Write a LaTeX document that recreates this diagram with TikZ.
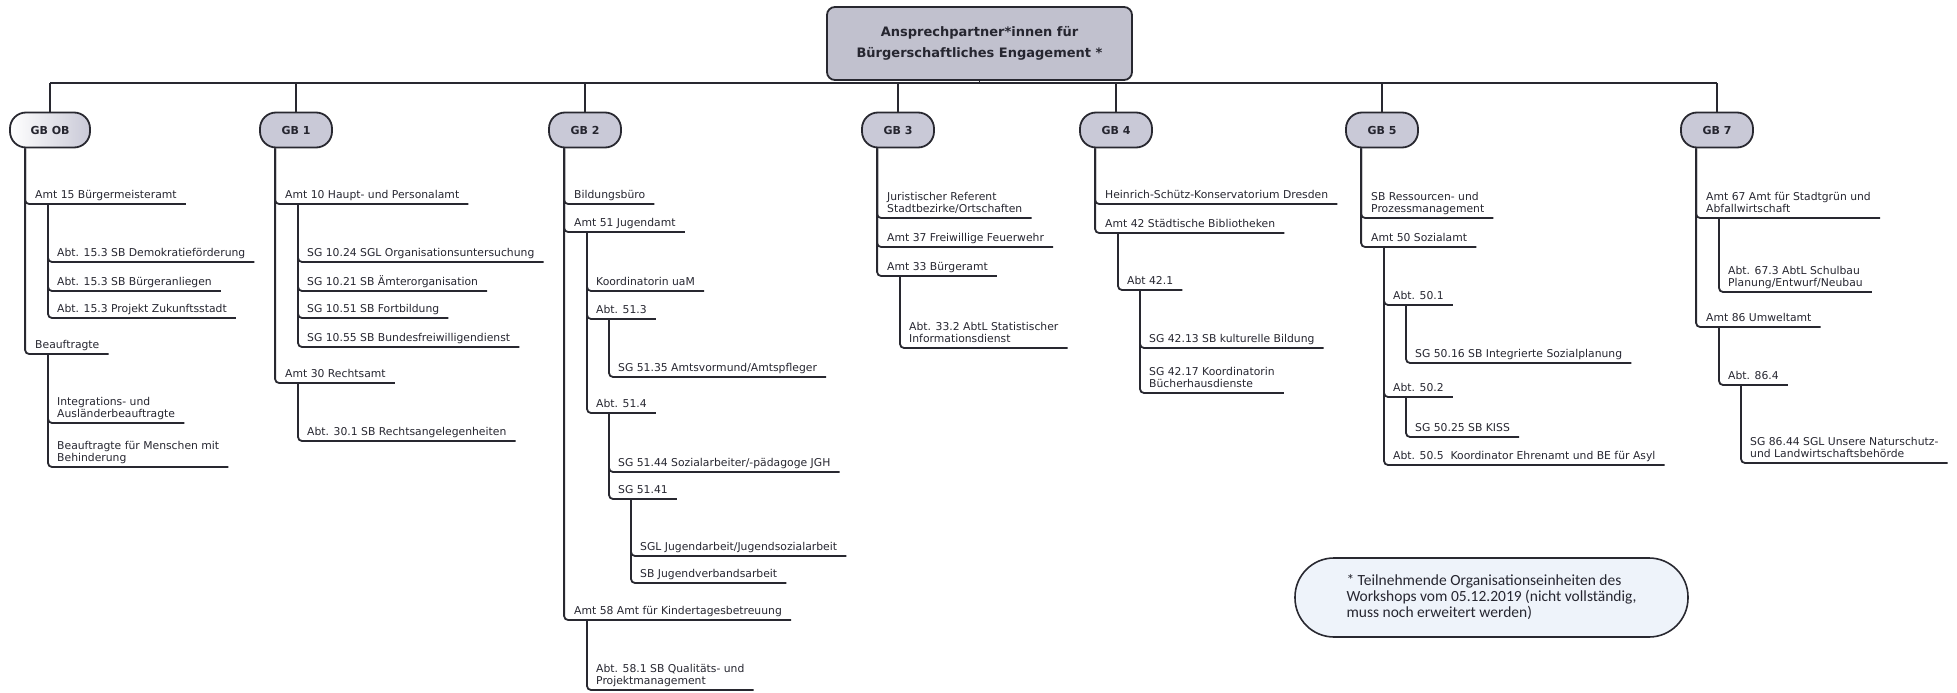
\documentclass[tikz,border=0pt]{standalone}
\usepackage{fontspec}
\setmainfont{DejaVu Sans}
\newfontfamily\notefont{Carlito}
\definecolor{linecol}{RGB}{40,40,48}
\definecolor{txtcol}{RGB}{38,38,48}
\definecolor{gbfill}{RGB}{201,201,215}
\definecolor{rootfill}{RGB}{193,193,206}
\definecolor{notefill}{RGB}{238,243,250}
\tikzset{
  conn/.style={draw=linecol, line width=1.8pt, rounded corners=4pt},
  item/.style={anchor=south west, inner xsep=9pt, inner ysep=2.4pt, text depth=2.6pt,
    align=left, text=txtcol, font=\fontsize{10.8}{12}\selectfont},
  gb/.style={draw=linecol, line width=1.8pt, fill=gbfill, rounded corners=16pt,
    minimum width=72pt, minimum height=35pt, text=txtcol, font=\bfseries\fontsize{11}{12}\selectfont},
  rootbox/.style={draw=linecol, line width=1.8pt, fill=rootfill, rounded corners=8pt,
    minimum width=305pt, minimum height=73pt, align=center, text=txtcol,
    font=\bfseries\fontsize{13}{21}\selectfont},
  notebox/.style={draw=linecol, line width=1.6pt, fill=notefill, rounded corners=39pt,
    minimum width=393pt, minimum height=79pt, align=left, text=txtcol,
    font=\notefont\fontsize{15.5}{16}\selectfont}
}
\begin{document}
\begin{tikzpicture}[x=1pt, y=-1pt]
\useasboundingbox (0,0) rectangle (1957,693);
\node[rootbox] (root) at (979.5,43.5) {Ansprechpartner*innen für\\Bürgerschaftliches Engagement *};
\coordinate (bus) at (0,83);
%GB OB
\node[gb, minimum width=80pt, left color=white, right color=gbfill] (gbob) at (50,130) {GB OB};
\node[item] (amt15) at (26,204) {Amt 15 Bürgermeisteramt};
\node[item] (abt153a) at (48,262) {Abt. 15.3 SB Demokratieförderung};
\node[item] (abt153b) at (48,291) {Abt. 15.3 SB Bürgeranliegen};
\node[item] (abt153c) at (48,318) {Abt. 15.3 Projekt Zukunftsstadt};
\node[item] (beauftr) at (26,354) {Beauftragte};
\node[item] (integ) at (48,423) {Integrations- und\\Ausländerbeauftragte};
\node[item] (behind) at (48,467) {Beauftragte für Menschen mit\\Behinderung};
%GB 1
\node[gb] (gb1) at (296,130) {GB 1};
\node[item] (amt10) at (276,204) {Amt 10 Haupt- und Personalamt};
\node[item] (sg1024) at (298,262) {SG 10.24 SGL Organisationsuntersuchung};
\node[item] (sg1021) at (298,291) {SG 10.21 SB Ämterorganisation};
\node[item] (sg1051) at (298,318) {SG 10.51 SB Fortbildung};
\node[item] (sg1055) at (298,347) {SG 10.55 SB Bundesfreiwilligendienst};
\node[item] (amt30) at (276,383) {Amt 30 Rechtsamt};
\node[item] (abt301) at (298,441) {Abt. 30.1 SB Rechtsangelegenheiten};
%GB 2
\node[gb] (gb2) at (585,130) {GB 2};
\node[item] (bildung) at (565,204) {Bildungsbüro};
\node[item] (amt51) at (565,232) {Amt 51 Jugendamt};
\node[item] (koord) at (587,291) {Koordinatorin uaM};
\node[item] (abt513) at (587,319) {Abt. 51.3};
\node[item] (sg5135) at (609,377) {SG 51.35 Amtsvormund/Amtspfleger};
\node[item] (abt514) at (587,413) {Abt. 51.4};
\node[item] (sg5144) at (609,472) {SG 51.44 Sozialarbeiter/-pädagoge JGH};
\node[item] (sg5141) at (609,499) {SG 51.41};
\node[item] (sgljug) at (631,556) {SGL Jugendarbeit/Jugendsozialarbeit};
\node[item] (sbjug) at (631,583) {SB Jugendverbandsarbeit};
\node[item] (amt58) at (565,620) {Amt 58 Amt für Kindertagesbetreuung};
\node[item] (abt581) at (587,690) {Abt. 58.1 SB Qualitäts- und\\Projektmanagement};
%GB 3
\node[gb] (gb3) at (898,130) {GB 3};
\node[item] (jurist) at (878,218) {Juristischer Referent\\Stadtbezirke/Ortschaften};
\node[item] (amt37) at (878,247) {Amt 37 Freiwillige Feuerwehr};
\node[item] (amt33) at (878,276) {Amt 33 Bürgeramt};
\node[item] (abt332) at (900,348) {Abt. 33.2 AbtL Statistischer\\Informationsdienst};
%GB 4
\node[gb] (gb4) at (1116,130) {GB 4};
\node[item] (hsk) at (1096,204) {Heinrich-Schütz-Konservatorium Dresden};
\node[item] (amt42) at (1096,233) {Amt 42 Städtische Bibliotheken};
\node[item] (abt421) at (1118,290) {Abt 42.1};
\node[item] (sg4213) at (1140,348) {SG 42.13 SB kulturelle Bildung};
\node[item] (sg4217) at (1140,393) {SG 42.17 Koordinatorin\\Bücherhausdienste};
%GB 5
\node[gb] (gb5) at (1382,130) {GB 5};
\node[item] (sbres) at (1362,218) {SB Ressourcen- und\\Prozessmanagement};
\node[item] (amt50) at (1362,247) {Amt 50 Sozialamt};
\node[item] (abt501) at (1384,305) {Abt. 50.1};
\node[item] (sg5016) at (1406,363) {SG 50.16 SB Integrierte Sozialplanung};
\node[item] (abt502) at (1384,397) {Abt. 50.2};
\node[item] (sg5025) at (1406,437) {SG 50.25 SB KISS};
\node[item] (abt505) at (1384,465) {Abt. 50.5\ \ Koordinator Ehrenamt und BE für Asyl};
%GB 7
\node[gb] (gb7) at (1717,130) {GB 7};
\node[item] (amt67) at (1697,218) {Amt 67 Amt für Stadtgrün und\\Abfallwirtschaft};
\node[item] (abt673) at (1719,292) {Abt. 67.3 AbtL Schulbau\\Planung/Entwurf/Neubau};
\node[item] (amt86) at (1697,327) {Amt 86 Umweltamt};
\node[item] (abt864) at (1719,385) {Abt. 86.4};
\node[item] (sg8644) at (1741,463) {SG 86.44 SGL Unsere Naturschutz-\\und Landwirtschaftsbehörde};
%note
\node[notebox] (note) at (1491.5,597.5) {* Teilnehmende Organisationseinheiten des\\Workshops vom 05.12.2019 (nicht vollständig,\\muss noch erweitert werden)};
%bus
\draw[conn] (root.south) -- (root.south |- bus);
\draw[conn] (gbob.north |- bus) -- (gb7.north |- bus);
\foreach \g in {gbob,gb1,gb2,gb3,gb4,gb5,gb7}
  \draw[conn] (\g.north) -- (\g.north |- bus);
%branches
\foreach \c in {amt15,beauftr} \draw[conn] ([xshift=16pt]gbob.south west) |- (\c.south east);
\foreach \c in {abt153a,abt153b,abt153c} \draw[conn] ([xshift=22pt]amt15.south west) |- (\c.south east);
\foreach \c in {integ,behind} \draw[conn] ([xshift=22pt]beauftr.south west) |- (\c.south east);
\foreach \c in {amt10,amt30} \draw[conn] ([xshift=16pt]gb1.south west) |- (\c.south east);
\foreach \c in {sg1024,sg1021,sg1051,sg1055} \draw[conn] ([xshift=22pt]amt10.south west) |- (\c.south east);
\draw[conn] ([xshift=22pt]amt30.south west) |- (abt301.south east);
\foreach \c in {bildung,amt51,amt58} \draw[conn] ([xshift=16pt]gb2.south west) |- (\c.south east);
\foreach \c in {koord,abt513,abt514} \draw[conn] ([xshift=22pt]amt51.south west) |- (\c.south east);
\draw[conn] ([xshift=22pt]abt513.south west) |- (sg5135.south east);
\foreach \c in {sg5144,sg5141} \draw[conn] ([xshift=22pt]abt514.south west) |- (\c.south east);
\foreach \c in {sgljug,sbjug} \draw[conn] ([xshift=22pt]sg5141.south west) |- (\c.south east);
\draw[conn] ([xshift=22pt]amt58.south west) |- (abt581.south east);
\foreach \c in {jurist,amt37,amt33} \draw[conn] ([xshift=16pt]gb3.south west) |- (\c.south east);
\draw[conn] ([xshift=22pt]amt33.south west) |- (abt332.south east);
\foreach \c in {hsk,amt42} \draw[conn] ([xshift=16pt]gb4.south west) |- (\c.south east);
\draw[conn] ([xshift=22pt]amt42.south west) |- (abt421.south east);
\foreach \c in {sg4213,sg4217} \draw[conn] ([xshift=22pt]abt421.south west) |- (\c.south east);
\foreach \c in {sbres,amt50} \draw[conn] ([xshift=16pt]gb5.south west) |- (\c.south east);
\foreach \c in {abt501,abt502,abt505} \draw[conn] ([xshift=22pt]amt50.south west) |- (\c.south east);
\draw[conn] ([xshift=22pt]abt501.south west) |- (sg5016.south east);
\draw[conn] ([xshift=22pt]abt502.south west) |- (sg5025.south east);
\foreach \c in {amt67,amt86} \draw[conn] ([xshift=16pt]gb7.south west) |- (\c.south east);
\draw[conn] ([xshift=22pt]amt67.south west) |- (abt673.south east);
\draw[conn] ([xshift=22pt]amt86.south west) |- (abt864.south east);
\draw[conn] ([xshift=22pt]abt864.south west) |- (sg8644.south east);
\end{tikzpicture}
\end{document}
